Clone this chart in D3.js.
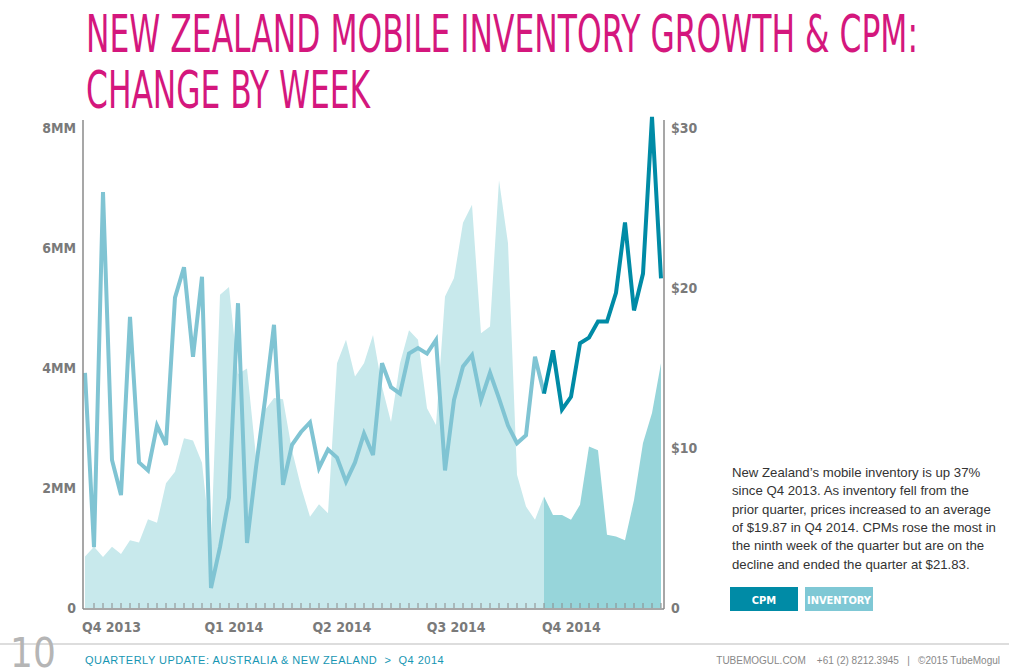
<!DOCTYPE html>
<html>
<head>
<meta charset="utf-8">
<script src="https://cdn.jsdelivr.net/npm/d3@7"></script>
<style>
  body { margin: 0; background: #fff; }
  svg text { font-family: "Liberation Sans Narrow", "DejaVu Sans Condensed", sans-serif; white-space: pre; }
</style>
</head>
<body>
<svg id="chart" width="1009" height="670"></svg>
<script>
// Weekly values, Q4 2013 .. Q4 2014 (65 weeks)
const inventoryMM = [0.86, 1.02, 0.85, 1.02, 0.9, 1.13, 1.09, 1.48, 1.42, 2.08, 2.27, 2.83, 2.79, 2.42, 1.0,
  5.22, 5.35, 3.9, 3.99, 2.52, 3.3, 3.5, 3.48, 2.63, 2.02, 1.52, 1.73, 1.58, 4.08, 4.47, 3.86, 4.08, 4.55,
  3.69, 3.1, 4.08, 4.63, 4.47, 3.33, 3.05, 5.19, 5.5, 6.42, 6.72, 4.58, 4.69, 7.13, 6.08, 2.22, 1.69, 1.47,
  1.86, 1.55, 1.55, 1.47, 1.72, 2.69, 2.63, 1.22, 1.19, 1.13, 1.8, 2.75, 3.25, 4.08];
const cpm = [14.7, 3.8, 26.0, 9.25, 7.06, 18.2, 9.1, 8.6, 11.4, 10.2, 19.4, 21.3, 15.7, 20.7, 1.25,
  3.8, 6.9, 19.05, 4.06, 8.8, 13.0, 17.7, 7.7, 10.2, 11.0, 11.6, 8.75, 9.9, 9.4, 7.9, 9.1, 10.9, 9.56,
  15.3, 13.8, 13.4, 15.9, 16.25, 15.9, 16.75, 8.6, 13.0, 15.1, 15.8, 13.0, 14.7, 13.1, 11.4, 10.3, 10.8, 15.7,
  13.4, 16.1, 12.4, 13.2, 16.55, 16.9, 17.9, 17.9, 19.7, 24.1, 18.6, 20.9, 30.7, 20.6];
const currentStart = 51; // first week of Q4 2014
const quarterLabels = ["Q4 2013", "Q1 2014", "Q2 2014", "Q3 2014", "Q4 2014"];
const quarterLabelWeek = [0, 13.6, 25.6, 38.3, 51.1];
const leftTicks = [0, 2, 4, 6, 8];
const rightTicks = [0, 10, 20, 30];

const svg = d3.select('#chart');
const x0 = 85, x1 = 661, yBase = 608;

const x = d3.scaleLinear().domain([0, cpm.length - 1]).range([x0, x1]);
const yInv = d3.scaleLinear().domain([0, 8]).range([yBase, 128]);
const yCpm = d3.scaleLinear().domain([0, 30]).range([yBase, 128]);

// Title
const magenta = '#d4177d';
[['NEW ZEALAND MOBILE INVENTORY GROWTH & CPM:', 52, 832], ['CHANGE BY WEEK', 108, 284]].forEach(([t, y, w]) => {
  svg.append('text').attr('x', 86).attr('y', y).attr('fill', magenta)
    .attr('font-size', 52).attr('font-weight', 300)
    .attr('textLength', w).attr('lengthAdjust', 'spacingAndGlyphs').text(t);
});

// Inventory areas
const area = d3.area().x(d => x(d.i)).y0(yBase).y1(d => yInv(d.v));
const pts = inventoryMM.map((v, i) => ({ i, v }));
svg.append('path').attr('d', area(pts.slice(0, currentStart + 1))).attr('fill', '#c8e9ec');
svg.append('path').attr('d', area(pts.slice(currentStart))).attr('fill', '#97d5da');

// CPM lines
const line = d3.line().x(d => x(d.i)).y(d => yCpm(d.v));
const cp = cpm.map((v, i) => ({ i, v }));
svg.append('path').attr('d', line(cp.slice(0, currentStart + 1))).attr('fill', 'none')
  .attr('stroke', '#80c4d3').attr('stroke-width', 4);
svg.append('path').attr('d', line(cp.slice(currentStart))).attr('fill', 'none')
  .attr('stroke', '#008ba6').attr('stroke-width', 4);

// Axes frame
const gray = '#8a8a8a';
svg.append('line').attr('x1', 83).attr('x2', 83).attr('y1', 120).attr('y2', yBase + 1).attr('stroke', gray).attr('stroke-width', 1.5);
svg.append('line').attr('x1', 664).attr('x2', 664).attr('y1', 120).attr('y2', yBase + 1).attr('stroke', gray).attr('stroke-width', 1.5);
svg.append('line').attr('x1', 83).attr('x2', 664).attr('y1', yBase + 1).attr('y2', yBase + 1).attr('stroke', gray).attr('stroke-width', 1.5);
svg.append('g').selectAll('line').data(d3.range(1, cpm.length)).join('line')
  .attr('x1', d => x(d)).attr('x2', d => x(d)).attr('y1', yBase - 5).attr('y2', yBase)
  .attr('stroke', gray).attr('stroke-width', 1);

svg.append('g').selectAll('text').data(leftTicks).join('text')
  .attr('x', 76).attr('y', d => yInv(d) + 5).attr('text-anchor', 'end')
  .attr('fill', '#7a7a7a').attr('font-size', 14).attr('font-weight', 'bold')
  .text(d => d === 0 ? '0' : d + 'MM');
svg.append('g').selectAll('text').data(rightTicks).join('text')
  .attr('x', 671).attr('y', d => yCpm(d) + 5)
  .attr('fill', '#7a7a7a').attr('font-size', 14).attr('font-weight', 'bold')
  .text(d => d === 0 ? '0' : '$' + d);
svg.append('g').selectAll('text').data(quarterLabels).join('text')
  .attr('x', (d, i) => x(quarterLabelWeek[i]) - 3).attr('y', 632)
  .attr('fill', '#7a7a7a').attr('font-size', 14).attr('font-weight', 'bold').text(d => d);

// Commentary
const para = ["New Zealand’s mobile inventory is up 37%", "since Q4 2013. As inventory fell from the",
  "prior quarter, prices increased to an average", "of $19.87 in Q4 2014. CPMs rose the most in",
  "the ninth week of the quarter but are on the", "decline and ended the quarter at $21.83."];
svg.append('g').selectAll('text').data(para).join('text')
  .attr('x', 732).attr('y', (d, i) => 477 + i * 18.3)
  .attr('fill', '#333').attr('font-size', 13.2)
  .style('font-family', '"Liberation Sans", Arial, sans-serif').text(d => d);

// Legend
[['CPM', '#008ba6', 730], ['INVENTORY', '#7fc8d5', 805]].forEach(([t, c, lx]) => {
  svg.append('rect').attr('x', lx).attr('y', 587).attr('width', 68).attr('height', 24).attr('fill', c);
  svg.append('text').attr('x', lx + 34).attr('y', 604).attr('text-anchor', 'middle')
    .attr('fill', '#fff').attr('font-size', 11).attr('font-weight', 'bold').text(t);
});

// Footer
svg.append('line').attr('x1', 0).attr('x2', 1009).attr('y1', 644).attr('y2', 644).attr('stroke', '#bbb').attr('stroke-width', 1);
svg.append('text').attr('x', 10).attr('y', 667).attr('fill', '#b5b5b5').attr('font-size', 40).attr('font-weight', 300).text('10');
svg.append('text').attr('x', 85).attr('y', 664).attr('fill', '#1796b3').attr('font-size', 11)
  .style('font-family', '"Liberation Sans", Arial, sans-serif').style('letter-spacing', '0.5px')
  .text('QUARTERLY UPDATE: AUSTRALIA & NEW ZEALAND  >  Q4 2014');
svg.append('text').attr('x', 1000).attr('y', 664).attr('text-anchor', 'end').attr('fill', '#888').attr('font-size', 10)
  .style('font-family', '"Liberation Sans", Arial, sans-serif')
  .text('TUBEMOGUL.COM    +61 (2) 8212.3945   |   ©2015 TubeMogul');
</script>
</body>
</html>
